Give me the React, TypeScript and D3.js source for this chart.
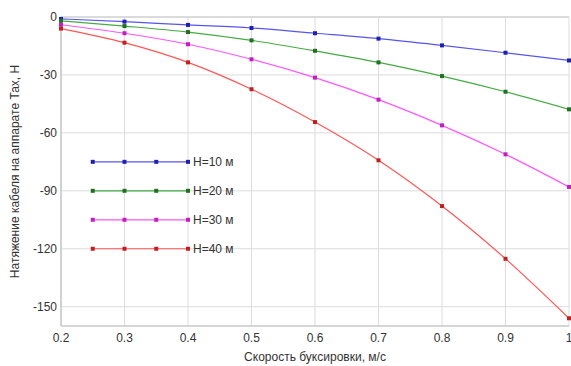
import React from "react";
import * as d3 from "d3";

const speeds = [0.2, 0.3, 0.4, 0.5, 0.6, 0.7, 0.8, 0.9, 1.0];
const h10 = [-1, -2.4, -4.1, -5.7, -8.4, -11.2, -14.7, -18.5, -22.5];
const h20 = [-2, -4.7, -7.8, -12.1, -17.5, -23.5, -30.6, -38.7, -47.8];
const h30 = [-4, -8.4, -14.1, -21.9, -31.4, -42.8, -56.1, -71.1, -88];
const h40 = [-6, -13.3, -23.5, -37.4, -54.4, -74.2, -97.9, -125.2, -156];
const seriesNames = ["H=10 м", "H=20 м", "H=30 м", "H=40 м"];
const xTicks = [0.2, 0.3, 0.4, 0.5, 0.6, 0.7, 0.8, 0.9, 1];
const yTicks = [0, -30, -60, -90, -120, -150];
const legendX = [0.25, 0.3, 0.35, 0.4];
const legendY = [-75, -90, -105, -120];

const lineColors = ["#5555ee", "#44aa44", "#ff55ff", "#ff5555"];
const markColors = ["#2020b0", "#207020", "#c020c0", "#c02020"];

export default function App() {
  const W = 571, H = 366;
  const left = 61, right = 569, top = 17, bottom = 326;
  const x = d3.scaleLinear().domain([0.2, 1]).range([left, right]);
  const y = d3.scaleLinear().domain([0, -160]).range([top, bottom]);
  const all = [h10, h20, h30, h40];
  const line = d3
    .line<[number, number]>()
    .x((d) => x(d[0]))
    .y((d) => y(d[1]))
    .curve(d3.curveMonotoneX);
  const font = "'Liberation Sans', Arial, sans-serif";
  return (
    <svg
      width={W}
      height={H}
      style={{ position: "absolute", left: 0, top: 0, background: "#fff" }}
      fontFamily={font}
    >
      <rect x={0} y={0} width={W} height={H} fill="#fff" />
      {/* grid */}
      {xTicks.map((t) => (
        <line key={"gx" + t} x1={x(t)} x2={x(t)} y1={top} y2={bottom} stroke="#dcdcdc" strokeWidth={1} />
      ))}
      {yTicks.map((t) => (
        <line key={"gy" + t} x1={left} x2={right} y1={y(t)} y2={y(t)} stroke="#dcdcdc" strokeWidth={1} />
      ))}
      <line x1={left} x2={right} y1={top} y2={top} stroke="#d4d4d4" strokeWidth={1.5} />
      <line x1={left} x2={left} y1={top} y2={bottom} stroke="#c8c8c8" strokeWidth={1.5} />
      <line x1={left} x2={right} y1={bottom} y2={bottom} stroke="#c8c8c8" strokeWidth={1.5} />
      {/* tick labels */}
      {xTicks.map((t) => (
        <text key={"tx" + t} x={x(t)} y={342} textAnchor="middle" fontSize={12} fill="#333">
          {String(t)}
        </text>
      ))}
      {yTicks.map((t) => (
        <text key={"ty" + t} x={57} y={y(t) + 4} textAnchor="end" fontSize={12} fill="#333">
          {String(t)}
        </text>
      ))}
      {/* series */}
      {all.map((s, i) => {
        const pts = speeds.map((v, j) => [v, s[j]] as [number, number]);
        return (
          <g key={"s" + i}>
            <path d={line(pts) || ""} fill="none" stroke={lineColors[i]} strokeWidth={1.2} />
            {pts.map((p, j) => (
              <rect key={j} x={x(p[0]) - 2} y={y(p[1]) - 2} width={4} height={4} fill={markColors[i]} />
            ))}
          </g>
        );
      })}
      {/* legend */}
      {seriesNames.map((n, i) => {
        const ly = y(legendY[i]);
        return (
          <g key={"l" + i}>
            <line x1={x(legendX[0])} x2={x(legendX[3])} y1={ly} y2={ly} stroke={lineColors[i]} strokeWidth={1.2} />
            {legendX.map((lx, j) => (
              <rect key={j} x={x(lx) - 2} y={ly - 2} width={4} height={4} fill={markColors[i]} />
            ))}
            <text x={x(legendX[3]) + 5} y={ly + 4} fontSize={12} fill="#333">
              {n}
            </text>
          </g>
        );
      })}
      {/* titles */}
      <text x={(left + right) / 2} y={361} textAnchor="middle" fontSize={12} fill="#333">
        Скорость буксировки, м/с
      </text>
      <text
        transform={`translate(19, ${(top + bottom) / 2}) rotate(-90)`}
        textAnchor="middle"
        fontSize={12}
        fill="#333"
      >
        Натяжение кабеля на аппарате Тах, Н
      </text>
    </svg>
  );
}
